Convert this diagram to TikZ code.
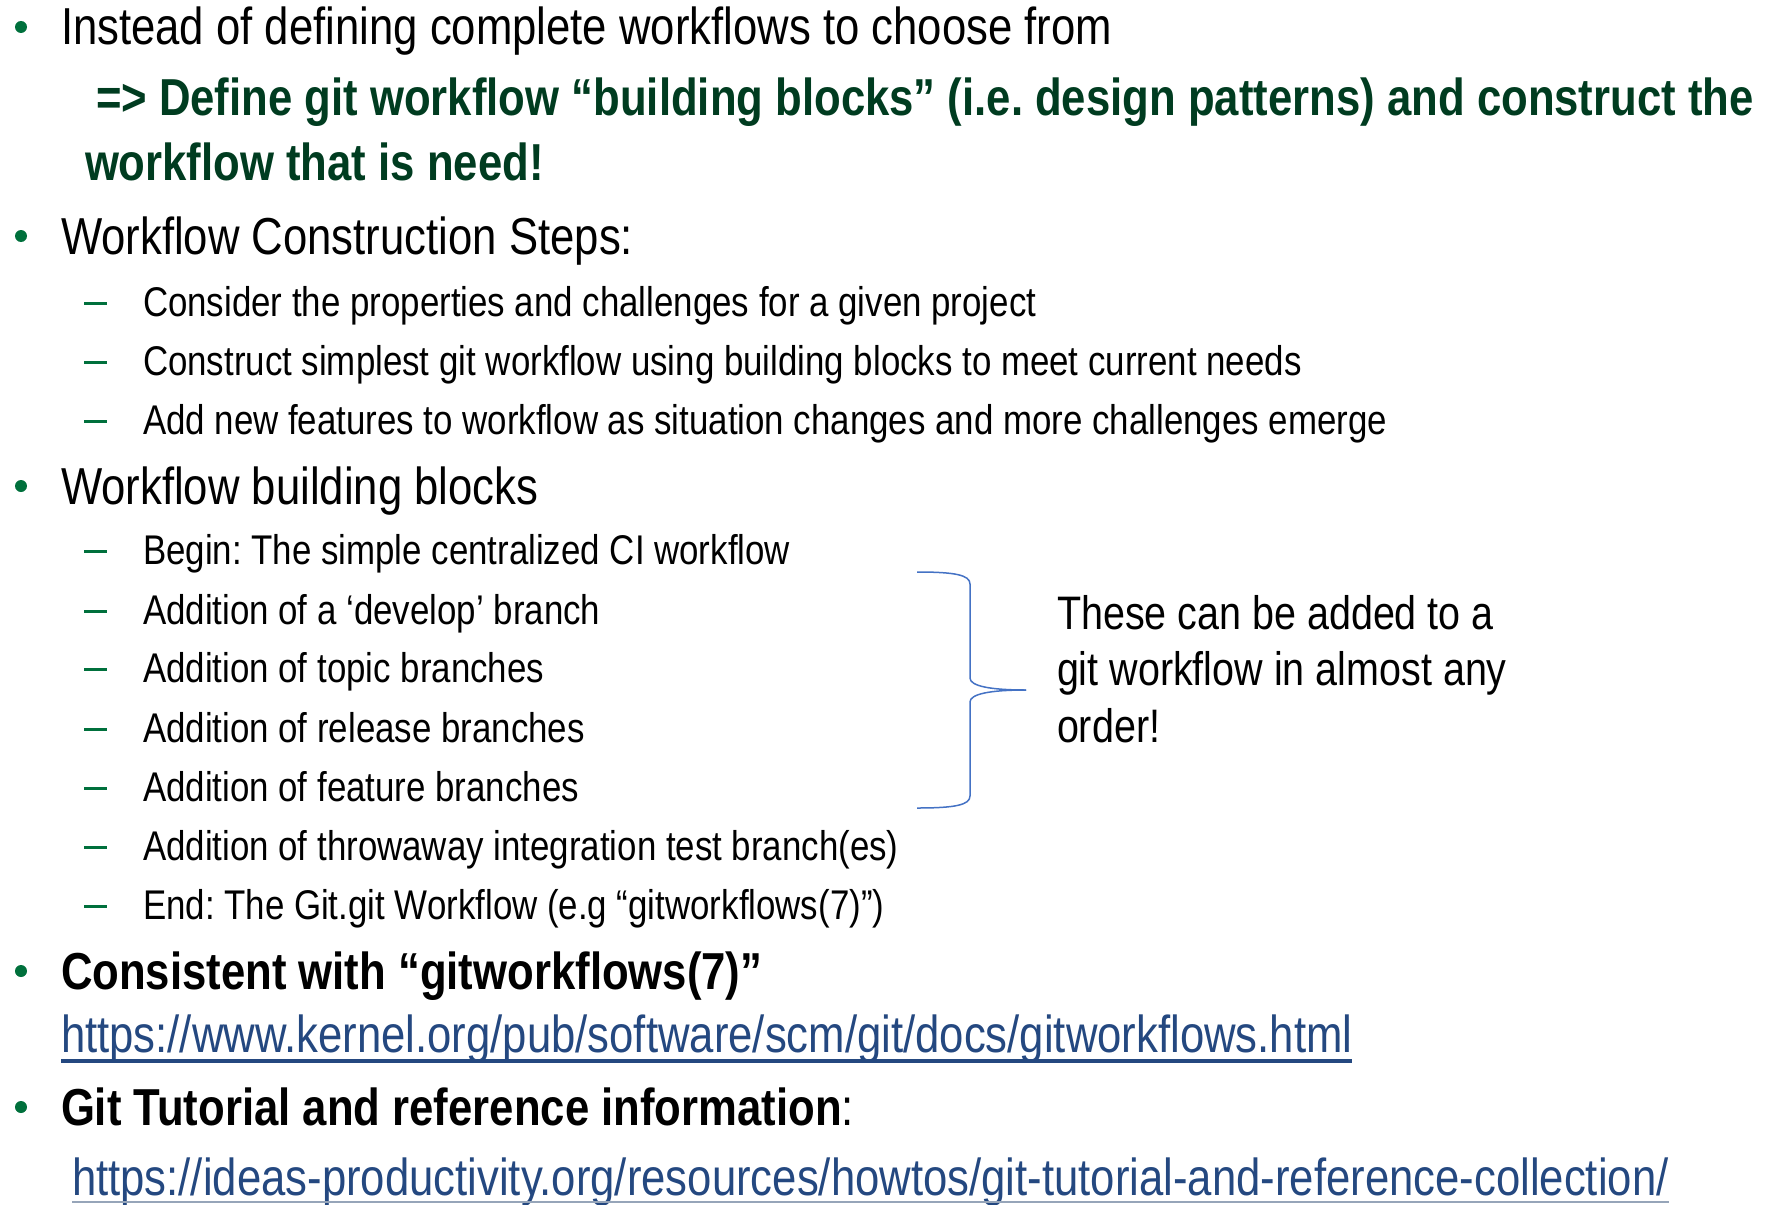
\documentclass[tikz,border=0pt]{standalone}
\usepackage{fontspec}
\setmainfont{Liberation Sans}[FakeStretch=0.84]
\definecolor{bulletgreen}{RGB}{0,112,60}
\definecolor{headgreen}{RGB}{0,60,32}
\definecolor{linkblue}{RGB}{36,72,128}
\definecolor{linkline}{RGB}{150,165,185}
\definecolor{bracecol}{RGB}{68,114,196}

\begin{document}
\frenchspacing
\begin{tikzpicture}[x=1pt,y=-1pt,
  every node/.style={inner sep=0pt, outer sep=0pt, anchor=base west},
  main/.style={font=\fontsize{52}{62}\selectfont},
  sub/.style={font=\fontsize{41.5}{50}\selectfont},
  note/.style={font=\fontsize{47}{56}\selectfont},
  headline/.style={font=\fontsize{52}{62}\selectfont\bfseries, text=headgreen},
  bolditem/.style={font=\fontsize{52}{62}\selectfont\bfseries},
  link/.style={font=\fontsize{52}{62}\selectfont, text=linkblue},
  dot/.style={circle, fill=bulletgreen, minimum size=12pt, anchor=center},
  dashbar/.style={rectangle, fill=bulletgreen, minimum width=23pt, minimum height=3pt, anchor=west},
  brace/.style={draw=bracecol, line width=1.5pt}
]
\useasboundingbox (0,0) rectangle (1768,1204);

% first bullet
\node[dot] (d1) at (21,27) {};
\node[main] (t1) at (61,45) {Instead of defining complete workflows to choose from};
\node[headline] (h1) at (96,116) {=> Define git workflow “building blocks” (i.e. design patterns) and construct the};
\node[headline] (h2) at (85,180) {workflow that is need!};

% construction steps
\node[dot] (d2) at (21,236) {};
\node[main] (t2) at (61,254) {Workflow Construction Steps:};
\node[dashbar] (s1d) at (84,303) {};
\node[sub] (s1) at (143,316) {Consider the properties and challenges for a given project};
\node[dashbar] (s2d) at (84,362) {};
\node[sub] (s2) at (143,375) {Construct simplest git workflow using building blocks to meet current needs};
\node[dashbar] (s3d) at (84,421) {};
\node[sub] (s3) at (143,434) {Add new features to workflow as situation changes and more challenges emerge};

% building blocks
\node[dot] (d3) at (21,486) {};
\node[main] (t3) at (61,504) {Workflow building blocks};
\node[dashbar] (b1d) at (84,551) {};
\node[sub] (b1) at (143,564) {Begin: The simple centralized CI workflow};
\node[dashbar] (b2d) at (84,611) {};
\node[sub] (b2) at (143,624) {Addition of a ‘develop’ branch};
\node[dashbar] (b3d) at (84,669) {};
\node[sub] (b3) at (143,682) {Addition of topic branches};
\node[dashbar] (b4d) at (84,729) {};
\node[sub] (b4) at (143,742) {Addition of release branches};
\node[dashbar] (b5d) at (84,788) {};
\node[sub] (b5) at (143,801) {Addition of feature branches};
\node[dashbar] (b6d) at (84,847) {};
\node[sub] (b6) at (143,860) {Addition of throwaway integration test branch(es)};
\node[dashbar] (b7d) at (84,906) {};
\node[sub] (b7) at (143,919) {End: The Git.git Workflow (e.g “gitworkflows(7)”)};

% brace and its note
\coordinate (bt) at (917,572);
\coordinate (btip) at (1026,690);
\coordinate (bb) at (917,808);
\draw[brace] (bt) .. controls (955,572) and (970,575) .. (970,584) -- (970,678)
  .. controls (970,686) and (990,690) .. (btip);
\draw[brace] (btip) .. controls (990,690) and (970,694) .. (970,702) -- (970,796)
  .. controls (970,805) and (955,808) .. (bb);
\node[note] (n1) at (1057,629) {These can be added to a};
\node[note] (n2) at (1057,685) {git workflow in almost any};
\node[note] (n3) at (1057,742) {order!};

% references
\node[dot] (d4) at (21,971) {};
\node[bolditem] (t4) at (61,989) {Consistent with “gitworkflows(7)”};
\node[link] (u1) at (61,1052) {https://www.kernel.org/pub/software/scm/git/docs/gitworkflows.html};
\draw[linkblue, line width=3.5pt] ([yshift=-9pt]u1.base west) -- ([yshift=-9pt]u1.base east);
\node[dot] (d5) at (21,1107) {};
\node[bolditem] (t5) at (61,1125) {Git Tutorial and reference information};
\node[main] (t5c) at (t5.base east) {:};
\node[link] (u2) at (72,1195) {https://ideas-productivity.org/resources/howtos/git-tutorial-and-reference-collection/};
\draw[linkline, line width=1.5pt] ([yshift=-7pt]u2.base west) -- ([yshift=-7pt]u2.base east);
\end{tikzpicture}
\end{document}
